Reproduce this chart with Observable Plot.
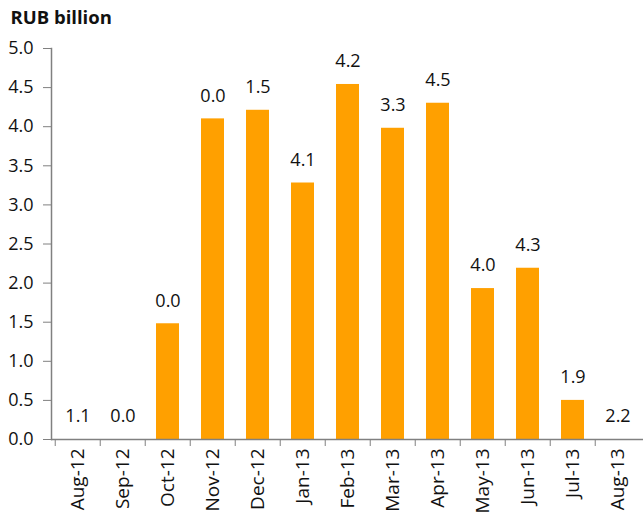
<!DOCTYPE html>
<html>
<head>
<meta charset="utf-8">
<script src="https://cdn.jsdelivr.net/npm/d3@7"></script>
<script src="https://cdn.jsdelivr.net/npm/@observablehq/plot@0.6"></script>
<style>
  html, body { margin: 0; padding: 0; background: #fff; }
  #chart svg { display: block; }
</style>
</head>
<body>
<div id="chart"></div>
<script>
const months = ["Aug-12","Sep-12","Oct-12","Nov-12","Dec-12","Jan-13","Feb-13","Mar-13","Apr-13","May-13","Jun-13","Jul-13","Aug-13"];
const values = [0, 0, 1.48, 4.10, 4.21, 3.28, 4.54, 3.98, 4.30, 1.93, 2.19, 0.50, 0];
const labels = ["1.1","0.0","0.0","0.0","1.5","4.1","4.2","3.3","4.5","4.0","4.3","1.9","2.2"];
const yTicks = [0, 0.5, 1, 1.5, 2, 2.5, 3, 3.5, 4, 4.5, 5];
const title = ["RUB billion"];

const data = months.map((m, i) => ({month: m, value: values[i], label: labels[i]}));

const W = 643, H = 517, ML = 51, MR = 0, MT = 48, MB = 78;
const step = (W - ML - MR) / months.length;
const font = "Open Sans, sans-serif";

const chart = Plot.plot({
  width: W,
  height: H,
  marginLeft: ML,
  marginRight: MR,
  marginTop: MT,
  marginBottom: MB,
  style: {fontFamily: font, fontSize: "18px", color: "#111", background: "#fff"},
  x: {domain: months, paddingInner: 0.5, paddingOuter: 0.25, label: null},
  y: {domain: [0, 5], label: null},
  marks: [
    Plot.barY(data, {x: "month", y: "value", fill: "#FFA000"}),
    Plot.ruleY([0], {stroke: "#808080", strokeWidth: 1.5}),
    Plot.frame({anchor: "left", stroke: "#808080", strokeWidth: 1.5}),
    Plot.axisY(yTicks, {tickSize: 8, tickPadding: 10, stroke: "#808080", tickFormat: d3.format(".1f"), fontSize: 18, fill: "#111", label: null}),
    Plot.axisX({tickSize: 7, dx: -step / 2, tickFormat: () => "", stroke: "#808080", label: null}),
    Plot.axisX({tickSize: 0, tickRotate: -90, tickPadding: 9, fontSize: 19, fill: "#111", label: null}),
    Plot.text(data, {x: "month", y: "value", text: "label", dy: -23, fontSize: 18, fill: "#111"}),
    Plot.text(title, {frameAnchor: "top-left", dx: -41, dy: -38, fontWeight: "bold", fontSize: 18.5, fill: "#111", textAnchor: "start"})
  ]
});
document.getElementById("chart").appendChild(chart);
</script>
</body>
</html>
